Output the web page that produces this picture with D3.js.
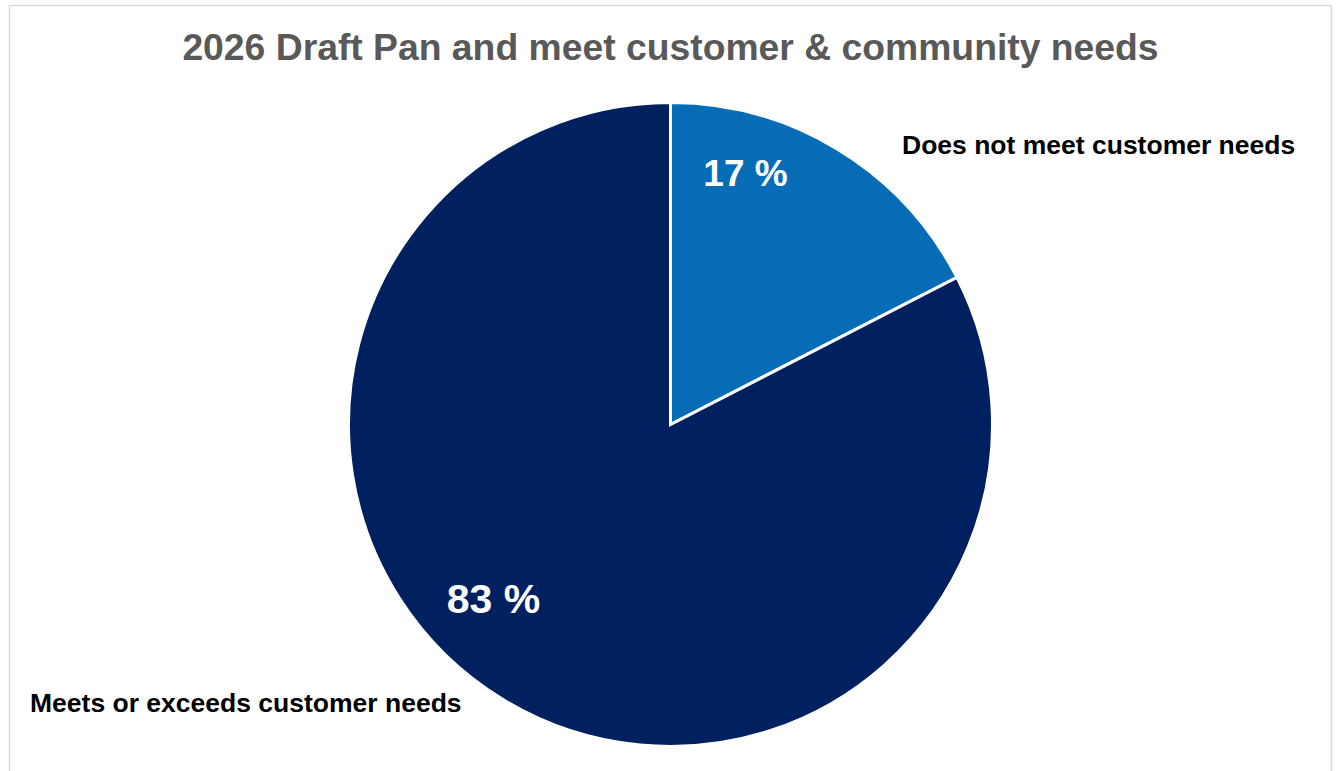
<!DOCTYPE html>
<html>
<head>
<meta charset="utf-8">
<script src="https://cdn.jsdelivr.net/npm/d3@7"></script>
<style>
  html, body { margin: 0; padding: 0; background: #fff; }
  svg { display: block; font-family: "Liberation Sans", Arial, sans-serif; }
</style>
</head>
<body>
<svg id="chart" width="1338" height="771"></svg>
<script>
// chart data
const categories = ['Does not meet customer needs', 'Meets or exceeds customer needs'];
const shares = [17.45, 82.55];
const sliceColors = ['#066cb6', '#002060'];
const title = '2026 Draft Pan and meet customer & community needs';

const width = 1338;
const height = 771;
const center = { x: 670.5, y: 424.5 };
const radius = 322;

// label placement (offset from pie center), tuned to the reference
const pctLabel = [
  { dx: 75, dy: -239, size: 37 },
  { dx: -177, dy: 188, size: 41 },
];
const catLabel = [
  { x: 902, y: 154, anchor: 'start' },
  { x: 30, y: 712, anchor: 'start' },
];

const svg = d3.select('#chart');

// outer frame
svg.append('rect')
  .attr('x', 9.5)
  .attr('y', 5.5)
  .attr('width', 1322)
  .attr('height', 800)
  .attr('fill', '#fff')
  .attr('stroke', '#d9d9d9')
  .attr('stroke-width', 1.5);

svg.append('text')
  .attr('x', center.x)
  .attr('y', 60)
  .attr('text-anchor', 'middle')
  .attr('font-size', 37.3)
  .attr('font-weight', 'bold')
  .attr('fill', '#595959')
  .text(title);

const pie = d3.pie().sort(null).value((d) => d);
const arcs = pie(shares);
const arc = d3.arc().innerRadius(0).outerRadius(radius);

const g = svg.append('g')
  .attr('transform', `translate(${center.x}, ${center.y})`);

g.selectAll('path')
  .data(arcs)
  .join('path')
  .attr('d', arc)
  .attr('fill', (d, i) => sliceColors[i])
  .attr('stroke', '#fff')
  .attr('stroke-width', 3)
  .attr('stroke-linejoin', 'miter');

// percentage labels
g.selectAll('text.pct')
  .data(arcs)
  .join('text')
  .attr('class', 'pct')
  .attr('x', (d, i) => pctLabel[i].dx)
  .attr('y', (d, i) => pctLabel[i].dy)
  .attr('text-anchor', 'middle')
  .attr('font-size', (d, i) => pctLabel[i].size)
  .attr('font-weight', 'bold')
  .attr('fill', '#fff')
  .text((d) => `${Math.round(d.data)} %`);

// category labels
svg.selectAll('text.cat')
  .data(categories)
  .join('text')
  .attr('class', 'cat')
  .attr('x', (d, i) => catLabel[i].x)
  .attr('y', (d, i) => catLabel[i].y)
  .attr('text-anchor', (d, i) => catLabel[i].anchor)
  .attr('font-size', 26.5)
  .attr('font-weight', 'bold')
  .attr('fill', '#000')
  .text((d) => d);
</script>
</body>
</html>
